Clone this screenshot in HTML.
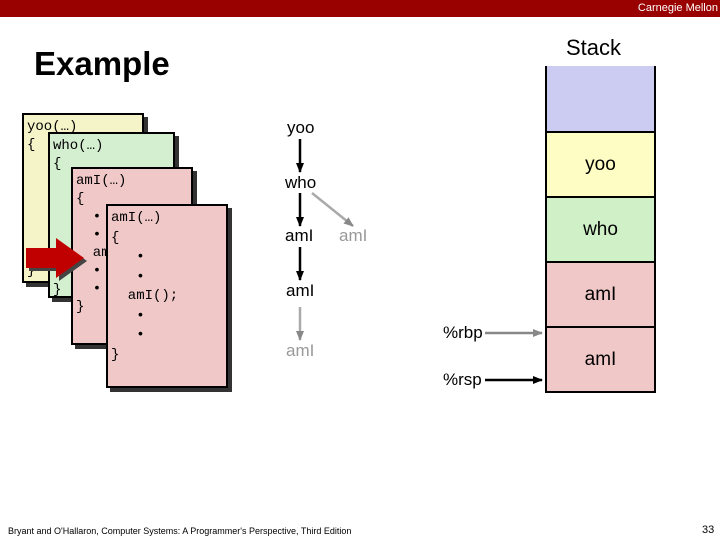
<!DOCTYPE html>
<html><head><style>
body{margin:0;width:720px;height:540px;position:relative;background:#fff;font-family:"Liberation Sans",sans-serif;overflow:hidden}
.a{position:absolute}
.card{position:absolute;border:2px solid #000;box-shadow:4px 4px 0 #333;font-family:"Liberation Mono",monospace;font-size:14px;line-height:18px;box-sizing:border-box;padding:3px 3px;white-space:pre}
.cell{position:absolute;left:545px;width:111px;border:2px solid #000;box-sizing:border-box;text-align:center;font-size:19px}
.t{position:absolute;font-size:17px}
</style></head><body>
<div class="a" style="left:0;top:0;width:720px;height:17px;background:#990000"></div>
<div class="a" style="right:2px;top:2px;color:#fff;font-size:11px">Carnegie Mellon</div>
<div class="a" style="left:34px;top:45px;font-size:33px;font-weight:bold">Example</div>
<div class="a" style="left:566px;top:35px;font-size:22px">Stack</div>

<div class="card" style="left:22px;top:113px;width:122px;height:170px;background:#f5f3c8">yoo(…)
{

     

     


}</div>
<div class="card" style="left:48px;top:132px;width:127px;height:166px;background:#d3efd0">who(…)
{






}</div>
<div class="card" style="left:71px;top:167px;width:122px;height:178px;background:#f0c8c8">amI(…)
{
  •
  •
  amI(…);
  •
  •
}</div>
<svg class="a" style="left:0;top:0" width="720" height="540">
<polygon points="26,248 56,248 56,238 84,258 56,278 56,268 26,268" fill="#444" transform="translate(3,3)"/>
<polygon points="26,248 56,248 56,238 84,258 56,278 56,268 26,268" fill="#c00000"/>
</svg>
<div class="card" style="left:106px;top:204px;width:122px;height:184px;background:#f0c8c8;line-height:19.5px">amI(…)
{
   •
   •
  amI();
   •
   •
}</div>

<div class="t" style="left:287px;top:118px">yoo</div>
<div class="t" style="left:285px;top:173px">who</div>
<div class="t" style="left:285px;top:226px">amI</div>
<div class="t" style="left:339px;top:226px;color:#999">amI</div>
<div class="t" style="left:286px;top:281px">amI</div>
<div class="t" style="left:286px;top:341px;color:#999">amI</div>
<svg class="a" style="left:0;top:0" width="720" height="540">
<defs><marker id="k" markerWidth="10" markerHeight="10" refX="9" refY="5" orient="auto" markerUnits="userSpaceOnUse"><path d="M0,1 L10,5 L0,9z" fill="#000"/></marker>
<marker id="g" markerWidth="10" markerHeight="10" refX="9" refY="5" orient="auto" markerUnits="userSpaceOnUse"><path d="M0,1 L10,5 L0,9z" fill="#888"/></marker></defs>
<g stroke-width="2.5">
<line x1="300" y1="139" x2="300" y2="172" stroke="#000" marker-end="url(#k)"/>
<line x1="300" y1="193" x2="300" y2="226" stroke="#000" marker-end="url(#k)"/>
<line x1="300" y1="247" x2="300" y2="280" stroke="#000" marker-end="url(#k)"/>
<line x1="300" y1="307" x2="300" y2="340" stroke="#aaa" marker-end="url(#g)"/>
<line x1="312" y1="193" x2="353" y2="226" stroke="#aaa" marker-end="url(#g)"/>
<line x1="485" y1="333" x2="542" y2="333" stroke="#888" marker-end="url(#g)"/>
<line x1="485" y1="380" x2="542" y2="380" stroke="#000" marker-end="url(#k)"/>
</g></svg>
<div class="t" style="left:443px;top:323px">%rbp</div>
<div class="t" style="left:443px;top:370px">%rsp</div>

<div class="cell" style="top:66px;height:67px;background:#ccccf2;border-top:none"></div>
<div class="cell" style="top:131px;height:67px;background:#fdfdc4;line-height:63px">yoo</div>
<div class="cell" style="top:196px;height:67px;background:#d0f0c8;line-height:63px">who</div>
<div class="cell" style="top:261px;height:67px;background:#f0c8c8;line-height:63px">amI</div>
<div class="cell" style="top:326px;height:67px;background:#f0c8c8;line-height:63px">amI</div>

<div class="a" style="left:8px;top:526px;font-size:9px">Bryant and O'Hallaron, Computer Systems: A Programmer's Perspective, Third Edition</div>
<div class="a" style="left:702px;top:524px;font-size:11px">33</div>
</body></html>
